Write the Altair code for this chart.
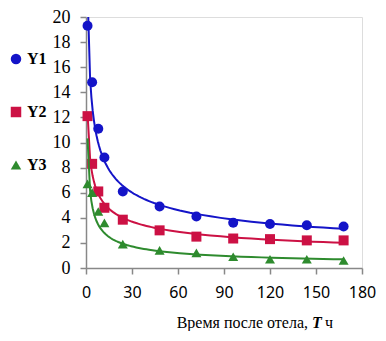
import altair as alt
import pandas as pd

hours = [1, 4, 8, 12, 24, 48, 72, 96, 120, 144, 168]
y1 = [19.3, 14.8, 11.1, 8.8, 6.1, 4.9, 4.1, 3.6, 3.5, 3.4, 3.3]
y2 = [12.1, 8.3, 6.1, 4.8, 3.85, 3.0, 2.5, 2.35, 2.3, 2.2, 2.2]
y3 = [6.7, 6.0, 4.5, 3.6, 1.9, 1.4, 1.2, 0.9, 0.7, 0.7, 0.6]
series_names = ["Y1", "Y2", "Y3"]
colors = ["#1414C8", "#CC1144", "#2E8B2E"]
shapes = ["circle", "square", "triangle-up"]
x_ticks = [0, 30, 60, 90, 120, 150, 180]
y_ticks = [0, 2, 4, 6, 8, 10, 12, 14, 16, 18, 20]

rows = []
for name, vals in zip(series_names, [y1, y2, y3]):
    for h, v in zip(hours, vals):
        rows.append({"x": h, "y": v, "series": name})
df = pd.DataFrame(rows)

W, H = 276, 251

xs = alt.Scale(domain=[0, 180], nice=False)
ys = alt.Scale(domain=[0, 20], nice=False)
color_scale = alt.Scale(domain=series_names, range=colors)
shape_scale = alt.Scale(domain=series_names, range=shapes)

xaxis = alt.Axis(values=x_ticks, title=None, grid=False, labelFont="Noto Sans",
                 labelFontSize=16, labelColor="black", labelPadding=10,
                 labelOverlap=False, labelFlush=False,
                 domainColor="#888888", tickColor="#888888", tickSize=6,
                 domainWidth=1.5, tickWidth=1.5)
yaxis = alt.Axis(values=y_ticks, title=None, grid=False, labelFont="Liberation Serif",
                 labelFontSize=18, labelColor="black", labelPadding=10,
                 labelOverlap=False, labelFlush=False,
                 domainColor="#888888", tickColor="#888888", tickSize=6,
                 domainWidth=1.5, tickWidth=1.5)

legend = alt.Legend(title=None, orient="none", legendX=-78, legendY=34, padding=0,
                    labelFont="Liberation Serif", labelFontSize=16,
                    labelFontWeight="bold", labelColor="black",
                    symbolSize=110, rowPadding=37, symbolStrokeWidth=0,
                    symbolOpacity=1, labelOffset=3)

base = alt.Chart(df)

points = base.mark_point(filled=True, opacity=1, size=100).encode(
    x=alt.X("x:Q", scale=xs, axis=xaxis),
    y=alt.Y("y:Q", scale=ys, axis=yaxis),
    color=alt.Color("series:N", scale=color_scale, legend=legend),
    shape=alt.Shape("series:N", scale=shape_scale, legend=legend),
)

lines = base.transform_regression(
    "x", "y", groupby=["series"], method="pow", extent=[1, 168]
).mark_line(strokeWidth=2, clip=True).encode(
    x=alt.X("x:Q", scale=xs, axis=xaxis),
    y=alt.Y("y:Q", scale=ys, axis=yaxis),
    color=alt.Color("series:N", scale=color_scale, legend=legend),
)

TY = H + 55
t1 = alt.Chart(pd.DataFrame({"t": ["Время после отела,"]})).mark_text(
    font="Liberation Serif", fontSize=16, align="right", baseline="middle", color="black"
).encode(text="t:N", x=alt.value(222), y=alt.value(TY))
t2 = alt.Chart(pd.DataFrame({"t": ["T"]})).mark_text(
    font="Liberation Serif", fontSize=16, fontWeight="bold", fontStyle="italic",
    align="left", baseline="middle", color="black"
).encode(text="t:N", x=alt.value(226), y=alt.value(TY))
t3 = alt.Chart(pd.DataFrame({"t": ["ч"]})).mark_text(
    font="Liberation Serif", fontSize=16, align="left", baseline="middle", color="black"
).encode(text="t:N", x=alt.value(239), y=alt.value(TY))

chart = alt.layer(points, lines, t1, t2, t3).properties(
    width=W, height=H, padding=0
).configure_view(stroke=None).configure(background="white")

chart.save("out.html", embed_options={"renderer": "svg", "actions": False})
